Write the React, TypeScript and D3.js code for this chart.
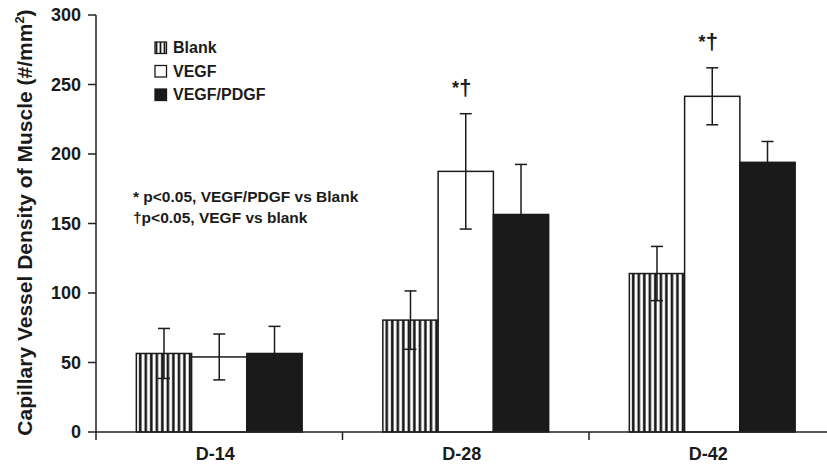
import * as d3 from 'd3';

const categories = ['D-14', 'D-28', 'D-42'];
const seriesNames = ['Blank', 'VEGF', 'VEGF/PDGF'];

// mean values per series, one per category
const blankValues = [56.5, 80.5, 114];
const vegfValues = [54, 187.5, 241.5];
const pdgfValues = [56.5, 156.5, 194];

// error (SD) per series
const blankErrors = [18, 21, 19.5];
const vegfErrors = [16.5, 41.5, 20.5];
const pdgfErrors = [19.5, 36, 15];

// significance marks above the VEGF bars
const vegfMarks = ['', '*†', '*†'];

const yTicks = [0, 50, 100, 150, 200, 250, 300];

const statNotes = ['* p<0.05, VEGF/PDGF vs Blank', '†p<0.05, VEGF vs blank'];

const width = 827;
const height = 465;
const font = "Arial, 'Liberation Sans', Helvetica, sans-serif";
const ink = '#1a1a1a';

const values = [blankValues, vegfValues, pdgfValues];
const errors = [blankErrors, vegfErrors, pdgfErrors];
const fills = ['url(#stripes)', '#ffffff', ink];
const legendFills = ['url(#stripesLegend)', '#ffffff', ink];

export default function App() {
    const y = d3.scaleLinear().domain([0, 300]).range([432, 15]);
    const x0 = d3.scaleBand<string>().domain(categories).range([96, 835.5]);
    const x1 = d3.scaleBand<string>().domain(seriesNames).range([0, x0.bandwidth()]).paddingOuter(0.73);

    const barW = x1.bandwidth();

    return (
        <svg
            width={width}
            height={height}
            style={{ position: 'absolute', left: 0, top: 0, background: '#fff' }}
            fontFamily={font}
            fontWeight="bold"
        >
            <defs>
                <pattern id="stripes" patternUnits="objectBoundingBox" width={0.1} height={1}>
                    <rect x={0} y={0} width={5.5} height={1000} fill="#fff" />
                    <rect x={2.6} y={0} width={2.6} height={1000} fill={ink} />
                </pattern>
                <pattern id="stripesLegend" patternUnits="userSpaceOnUse" x={155} y={0} width={4} height={1000}>
                    <rect x={0} y={0} width={4} height={1000} fill="#fff" />
                    <rect x={1.6} y={0} width={1.8} height={1000} fill={ink} />
                </pattern>
            </defs>

            {/* bars */}
            {categories.map((cat, ci) => (
                <g key={cat} transform={`translate(${x0(cat)},0)`}>
                    {seriesNames.map((s, si) => {
                        const v = values[si][ci];
                        return (
                            <rect
                                key={s}
                                x={x1(s)}
                                y={y(v)}
                                width={barW}
                                height={y(0) - y(v)}
                                fill={fills[si]}
                                stroke={ink}
                                strokeWidth={1.5}
                            />
                        );
                    })}
                </g>
            ))}

            {/* error bars */}
            {categories.map((cat, ci) => (
                <g key={cat} transform={`translate(${x0(cat)},0)`} stroke={ink} strokeWidth={1.5}>
                    {seriesNames.map((s, si) => {
                        const v = values[si][ci];
                        const e = errors[si][ci];
                        const cx = (x1(s) as number) + barW / 2;
                        return (
                            <g key={s}>
                                <line x1={cx} x2={cx} y1={y(v - e)} y2={y(v + e)} />
                                <line x1={cx - 6} x2={cx + 6} y1={y(v + e)} y2={y(v + e)} />
                                <line x1={cx - 6} x2={cx + 6} y1={y(v - e)} y2={y(v - e)} />
                            </g>
                        );
                    })}
                </g>
            ))}

            {/* significance marks */}
            {categories.map((cat, ci) =>
                vegfMarks[ci] ? (
                    <text
                        key={cat}
                        x={(x0(cat) as number) + (x1('VEGF') as number) + barW / 2 - 4}
                        y={y(vegfValues[ci] + vegfErrors[ci]) - 19}
                        textAnchor="middle"
                        fontSize={18}
                        fill={ink}
                    >
                        {vegfMarks[ci].split('').map((ch, k) => (
                            <tspan key={k} fontSize={ch === '†' ? 22 : 18} dy={ch === '*' ? -1 : 1}>
                                {ch}
                            </tspan>
                        ))}
                    </text>
                ) : null
            )}

            {/* y axis */}
            <line x1={96} x2={96} y1={y(300)} y2={y(0) + 8} stroke="#222" strokeWidth={1.5} />
            {yTicks.map((t) => (
                <g key={t}>
                    <line x1={88} x2={96} y1={y(t)} y2={y(t)} stroke="#222" strokeWidth={1.5} />
                    <text x={81} y={y(t)} dy="0.36em" textAnchor="end" fontSize={18} fill={ink}>
                        {t}
                    </text>
                </g>
            ))}

            {/* x axis */}
            <line x1={96} x2={width} y1={y(0)} y2={y(0)} stroke="#222" strokeWidth={1.5} />
            {categories.map((cat) => (
                <g key={cat}>
                    <line
                        x1={(x0(cat) as number) + x0.bandwidth()}
                        x2={(x0(cat) as number) + x0.bandwidth()}
                        y1={y(0)}
                        y2={y(0) + 8}
                        stroke="#222"
                        strokeWidth={1.5}
                    />
                    <text
                        x={(x0(cat) as number) + x0.bandwidth() / 2 - 4}
                        y={460}
                        textAnchor="middle"
                        fontSize={18}
                        fill={ink}
                    >
                        {cat}
                    </text>
                </g>
            ))}

            {/* y axis title */}
            <text transform="translate(32,222.5) rotate(-90)" textAnchor="middle" fontSize={21} fill={ink}>
                Capillary Vessel Density of Muscle (#/mm
                <tspan fontSize={13} dy={-8}>
                    2
                </tspan>
                <tspan dy={8}>)</tspan>
            </text>

            {/* legend */}
            {seriesNames.map((s, si) => (
                <g key={s} transform={`translate(155,${42 + si * 23.5})`}>
                    <rect x={0} y={0} width={11.5} height={11.5} fill={legendFills[si]} stroke={ink} strokeWidth={1.3} />
                    <text x={18} y={11.3} fontSize={16} fill={ink}>
                        {s}
                    </text>
                </g>
            ))}

            {/* stat notes */}
            {statNotes.map((n, i) => (
                <text key={n} x={133} y={201.5 + i * 21} fontSize={15.5} fill={ink}>
                    {n}
                </text>
            ))}
        </svg>
    );
}
